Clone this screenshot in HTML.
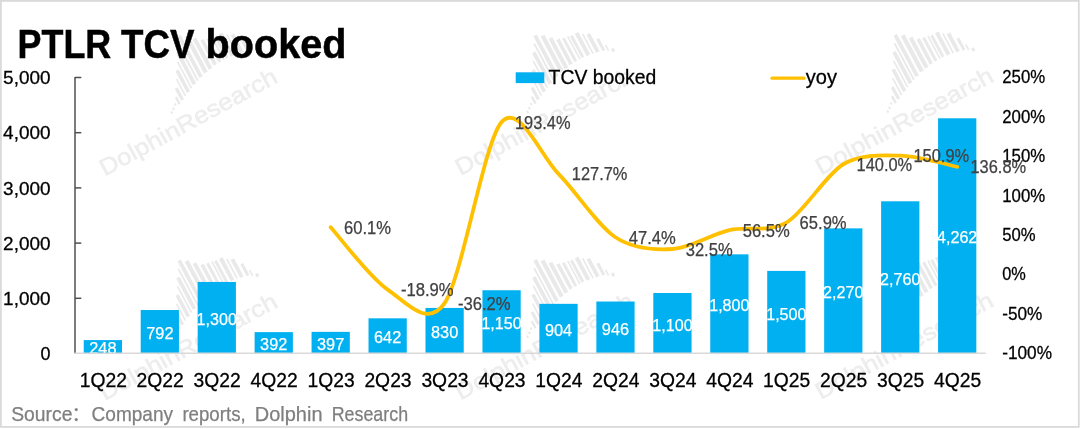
<!DOCTYPE html>
<html lang="en"><head><meta charset="utf-8"><title>PTLR TCV booked</title>
<style>
html,body{margin:0;padding:0;background:#fff;}
body{width:1080px;height:429px;overflow:hidden;}
svg{display:block;}
svg text{font-family:"Liberation Sans", "Noto Sans CJK SC", sans-serif;}
.ax{font-size:18.9px;fill:#000;stroke:#000;stroke-width:0.28px;}
.cat{font-size:19.6px;fill:#000;stroke:#000;stroke-width:0.28px;}
.bl{font-size:17.2px;fill:#fff;stroke:#fff;stroke-width:0.25px;}
.ll{font-size:17.6px;fill:#404040;stroke:#404040;stroke-width:0.25px;}
.wm{font-size:23.4px;fill:#ededed;stroke:#ededed;stroke-width:0.5px;}
</style></head><body>
<svg width="1080" height="429" viewBox="0 0 1080 429">
<defs>
<g id="wm"><g transform="rotate(-28)">
<g fill="#e9e9e9">
<rect x="97.80" y="-26.00" width="2.4" height="8.02"/>
<rect x="101.90" y="-34.00" width="3.2" height="13.81"/>
<rect x="107.20" y="-41.50" width="1.6" height="19.10"/>
<rect x="110.70" y="-49.00" width="3.6" height="24.50"/>
<rect x="116.20" y="-56.50" width="1.6" height="29.90"/>
<rect x="119.60" y="-64.00" width="3.8" height="35.46"/>
<rect x="125.10" y="-71.50" width="1.8" height="41.36"/>
<rect x="128.70" y="-78.60" width="3.8" height="46.81"/>
<rect x="134.90" y="-74.60" width="4.2" height="41.00"/>
<rect x="140.90" y="-69.00" width="4.0" height="34.22"/>
<rect x="147.10" y="-64.20" width="3.6" height="28.22"/>
<rect x="152.80" y="-62.80" width="3.0" height="26.57"/>
<rect x="158.20" y="-62.40" width="1.6" height="25.97"/>
<rect x="161.00" y="-61.20" width="3.0" height="24.62"/>
<rect x="166.40" y="-61.20" width="4.0" height="25.32"/>
<rect x="172.50" y="-57.50" width="1.6" height="22.27"/>
<rect x="176.30" y="-54.80" width="3.8" height="20.54"/>
<rect x="182.80" y="-46.20" width="3.0" height="13.34"/>
<rect x="187.50" y="-37.00" width="1.6" height="6.53"/>
<rect x="191.20" y="-30.80" width="2.8" height="3.67"/>
<rect x="87.0" y="-15.5" width="2" height="2.4"/>
<rect x="90.3" y="-18.0" width="2" height="2.4"/>
<rect x="93.8" y="-21.0" width="2" height="2.4"/>
</g>
</g>
<text class="wm" x="0" y="0" transform="translate(4.0,9.9) rotate(-28.5)" textLength="198.5" lengthAdjust="spacingAndGlyphs">DolphinResearch</text>
</g>
</defs>
<rect x="0" y="0" width="1080" height="429" fill="#fff"/>
<rect x="0.9" y="0.9" width="1077.9" height="426" fill="none" stroke="#dadada" stroke-width="1.8"/>
<use href="#wm" x="100.7" y="166.5"/>
<use href="#wm" x="456.6" y="166.0"/>
<use href="#wm" x="816.8" y="165.5"/>
<use href="#wm" x="100.7" y="391.1"/>
<use href="#wm" x="456.6" y="390.6"/>
<use href="#wm" x="816.8" y="390.1"/>
<g font-weight="bold" font-size="40.6px" fill="#000" stroke="#000" stroke-width="0.5">
<text x="17.6" y="58.1" textLength="93.6" lengthAdjust="spacingAndGlyphs">PTLR</text>
<text x="121.0" y="58.1" textLength="73.4" lengthAdjust="spacingAndGlyphs">TCV</text>
<text x="205.6" y="58.1" textLength="140.8" lengthAdjust="spacingAndGlyphs">booked</text>
</g>
<rect x="515.7" y="72.3" width="28.6" height="10.8" fill="#00b0f0"/>
<text x="548.6" y="84.3" font-size="20.2px" fill="#000" stroke="#000" stroke-width="0.28" textLength="107.6" lengthAdjust="spacingAndGlyphs">TCV booked</text>
<line x1="772" y1="78.2" x2="804" y2="78.2" stroke="#ffc000" stroke-width="3.2" stroke-linecap="round"/>
<text x="805.8" y="84.3" font-size="20.2px" fill="#000" stroke="#000" stroke-width="0.28" textLength="31.2" lengthAdjust="spacingAndGlyphs">yoy</text>
<g stroke="#4f4f4f" stroke-width="1.5" fill="none">
<line x1="75.0" y1="76.9" x2="75.0" y2="353.5"/>
<line x1="75.0" y1="298.30" x2="81.3" y2="298.30"/>
<line x1="75.0" y1="243.10" x2="81.3" y2="243.10"/>
<line x1="75.0" y1="187.90" x2="81.3" y2="187.90"/>
<line x1="75.0" y1="132.70" x2="81.3" y2="132.70"/>
<line x1="75.0" y1="77.50" x2="81.3" y2="77.50"/>
</g>
<text class="ax" x="40.5" y="360.1" textLength="10.0" lengthAdjust="spacingAndGlyphs">0</text>
<text class="ax" x="3.1" y="304.9" textLength="47.4" lengthAdjust="spacingAndGlyphs">1,000</text>
<text class="ax" x="3.1" y="249.7" textLength="47.4" lengthAdjust="spacingAndGlyphs">2,000</text>
<text class="ax" x="3.1" y="194.5" textLength="47.4" lengthAdjust="spacingAndGlyphs">3,000</text>
<text class="ax" x="3.1" y="139.3" textLength="47.4" lengthAdjust="spacingAndGlyphs">4,000</text>
<text class="ax" x="3.1" y="84.1" textLength="47.4" lengthAdjust="spacingAndGlyphs">5,000</text>
<text class="ax" x="1002.2" y="359.2" textLength="49.8" lengthAdjust="spacingAndGlyphs">-100%</text>
<text class="ax" x="1002.2" y="319.8" textLength="40.1" lengthAdjust="spacingAndGlyphs">-50%</text>
<text class="ax" x="1002.2" y="280.3" textLength="23.6" lengthAdjust="spacingAndGlyphs">0%</text>
<text class="ax" x="1002.2" y="240.9" textLength="33.3" lengthAdjust="spacingAndGlyphs">50%</text>
<text class="ax" x="1002.2" y="201.5" textLength="43.0" lengthAdjust="spacingAndGlyphs">100%</text>
<text class="ax" x="1002.2" y="162.1" textLength="43.0" lengthAdjust="spacingAndGlyphs">150%</text>
<text class="ax" x="1002.2" y="122.6" textLength="43.0" lengthAdjust="spacingAndGlyphs">200%</text>
<text class="ax" x="1002.2" y="83.2" textLength="43.0" lengthAdjust="spacingAndGlyphs">250%</text>
<g fill="#00b0f0">
<rect x="83.75" y="340.10" width="38.25" height="13.70"/>
<rect x="140.70" y="310.03" width="38.25" height="43.77"/>
<rect x="197.66" y="281.96" width="38.25" height="71.84"/>
<rect x="254.62" y="332.14" width="38.25" height="21.66"/>
<rect x="311.57" y="331.86" width="38.25" height="21.94"/>
<rect x="368.52" y="318.32" width="38.25" height="35.48"/>
<rect x="425.48" y="307.93" width="38.25" height="45.87"/>
<rect x="482.44" y="290.25" width="38.25" height="63.55"/>
<rect x="539.39" y="303.84" width="38.25" height="49.96"/>
<rect x="596.35" y="301.52" width="38.25" height="52.28"/>
<rect x="653.30" y="293.01" width="38.25" height="60.79"/>
<rect x="710.25" y="254.33" width="38.25" height="99.47"/>
<rect x="767.21" y="270.91" width="38.25" height="82.89"/>
<rect x="824.16" y="228.36" width="38.25" height="125.44"/>
<rect x="881.12" y="201.28" width="38.25" height="152.52"/>
<rect x="938.07" y="118.28" width="38.25" height="235.52"/>
</g>
<text class="bl" x="89.2" y="354.3" textLength="27.3" lengthAdjust="spacingAndGlyphs">248</text>
<text class="bl" x="146.2" y="339.3" textLength="27.3" lengthAdjust="spacingAndGlyphs">792</text>
<text class="bl" x="196.6" y="325.2" textLength="40.3" lengthAdjust="spacingAndGlyphs">1,300</text>
<text class="bl" x="260.1" y="350.3" textLength="27.3" lengthAdjust="spacingAndGlyphs">392</text>
<text class="bl" x="317.0" y="350.2" textLength="27.3" lengthAdjust="spacingAndGlyphs">397</text>
<text class="bl" x="374.0" y="343.4" textLength="27.3" lengthAdjust="spacingAndGlyphs">642</text>
<text class="bl" x="431.0" y="338.2" textLength="27.3" lengthAdjust="spacingAndGlyphs">830</text>
<text class="bl" x="481.4" y="329.4" textLength="40.3" lengthAdjust="spacingAndGlyphs">1,150</text>
<text class="bl" x="544.9" y="336.2" textLength="27.3" lengthAdjust="spacingAndGlyphs">904</text>
<text class="bl" x="601.8" y="335.0" textLength="27.3" lengthAdjust="spacingAndGlyphs">946</text>
<text class="bl" x="652.3" y="330.8" textLength="40.3" lengthAdjust="spacingAndGlyphs">1,100</text>
<text class="bl" x="709.2" y="311.4" textLength="40.3" lengthAdjust="spacingAndGlyphs">1,800</text>
<text class="bl" x="766.2" y="319.7" textLength="40.3" lengthAdjust="spacingAndGlyphs">1,500</text>
<text class="bl" x="823.1" y="298.4" textLength="40.3" lengthAdjust="spacingAndGlyphs">2,270</text>
<text class="bl" x="880.1" y="284.9" textLength="40.3" lengthAdjust="spacingAndGlyphs">2,760</text>
<text class="bl" x="937.0" y="243.4" textLength="40.3" lengthAdjust="spacingAndGlyphs">4,262</text>
<line x1="74.4" y1="353.2" x2="985.8" y2="353.2" stroke="#d9d9d9" stroke-width="1.6"/>
<text class="cat" x="79.7" y="387" textLength="47.2" lengthAdjust="spacingAndGlyphs">1Q22</text>
<text class="cat" x="136.6" y="387" textLength="47.2" lengthAdjust="spacingAndGlyphs">2Q22</text>
<text class="cat" x="193.6" y="387" textLength="47.2" lengthAdjust="spacingAndGlyphs">3Q22</text>
<text class="cat" x="250.5" y="387" textLength="47.2" lengthAdjust="spacingAndGlyphs">4Q22</text>
<text class="cat" x="307.5" y="387" textLength="47.2" lengthAdjust="spacingAndGlyphs">1Q23</text>
<text class="cat" x="364.4" y="387" textLength="47.2" lengthAdjust="spacingAndGlyphs">2Q23</text>
<text class="cat" x="421.4" y="387" textLength="47.2" lengthAdjust="spacingAndGlyphs">3Q23</text>
<text class="cat" x="478.4" y="387" textLength="47.2" lengthAdjust="spacingAndGlyphs">4Q23</text>
<text class="cat" x="535.3" y="387" textLength="47.2" lengthAdjust="spacingAndGlyphs">1Q24</text>
<text class="cat" x="592.3" y="387" textLength="47.2" lengthAdjust="spacingAndGlyphs">2Q24</text>
<text class="cat" x="649.2" y="387" textLength="47.2" lengthAdjust="spacingAndGlyphs">3Q24</text>
<text class="cat" x="706.2" y="387" textLength="47.2" lengthAdjust="spacingAndGlyphs">4Q24</text>
<text class="cat" x="763.1" y="387" textLength="47.2" lengthAdjust="spacingAndGlyphs">1Q25</text>
<text class="cat" x="820.1" y="387" textLength="47.2" lengthAdjust="spacingAndGlyphs">2Q25</text>
<text class="cat" x="877.0" y="387" textLength="47.2" lengthAdjust="spacingAndGlyphs">3Q25</text>
<text class="cat" x="934.0" y="387" textLength="47.2" lengthAdjust="spacingAndGlyphs">4Q25</text>
<path d="M330.69,227.25 C339.52,236.91 369.99,277.78 387.65,289.55 C405.31,301.32 426.95,329.14 444.61,303.19 C462.26,277.24 483.90,142.17 501.56,122.13 C519.22,102.10 540.86,156.10 558.51,173.94 C576.17,191.79 597.81,225.63 615.47,237.26 C633.13,248.90 654.77,250.13 672.42,249.01 C690.08,247.90 711.72,234.17 729.38,230.09 C747.04,226.01 768.68,232.88 786.34,222.68 C803.99,212.47 825.63,174.63 843.29,164.24 C860.95,153.85 882.59,155.26 900.25,155.65 C917.90,156.04 948.37,165.04 957.20,166.77" fill="none" stroke="#ffc000" stroke-width="3.8" stroke-linecap="round" stroke-linejoin="round"/>
<text class="ll" x="344.0" y="233.7" textLength="47.0" lengthAdjust="spacingAndGlyphs">60.1%</text>
<text class="ll" x="400.9" y="296.0" textLength="52.8" lengthAdjust="spacingAndGlyphs">-18.9%</text>
<text class="ll" x="457.9" y="309.7" textLength="52.8" lengthAdjust="spacingAndGlyphs">-36.2%</text>
<text class="ll" x="514.9" y="128.6" textLength="55.6" lengthAdjust="spacingAndGlyphs">193.4%</text>
<text class="ll" x="571.8" y="180.4" textLength="55.6" lengthAdjust="spacingAndGlyphs">127.7%</text>
<text class="ll" x="628.8" y="243.8" textLength="47.0" lengthAdjust="spacingAndGlyphs">47.4%</text>
<text class="ll" x="685.7" y="255.5" textLength="47.0" lengthAdjust="spacingAndGlyphs">32.5%</text>
<text class="ll" x="742.7" y="236.6" textLength="47.0" lengthAdjust="spacingAndGlyphs">56.5%</text>
<text class="ll" x="799.6" y="229.2" textLength="47.0" lengthAdjust="spacingAndGlyphs">65.9%</text>
<text class="ll" x="856.6" y="170.7" textLength="55.6" lengthAdjust="spacingAndGlyphs">140.0%</text>
<text class="ll" x="913.5" y="162.1" textLength="55.6" lengthAdjust="spacingAndGlyphs">150.9%</text>
<text class="ll" x="970.5" y="173.3" textLength="55.6" lengthAdjust="spacingAndGlyphs">136.8%</text>
<g font-size="20.2px" fill="#7f7f7f" stroke="#7f7f7f" stroke-width="0.25">
<text x="11.2" y="421" textLength="61.2" lengthAdjust="spacingAndGlyphs">Source</text>
<text x="71.4" y="421" font-size="19px">：</text>
<text x="91.6" y="421" textLength="81.4" lengthAdjust="spacingAndGlyphs">Company</text>
<text x="182.4" y="421" textLength="63.3" lengthAdjust="spacingAndGlyphs">reports,</text>
<text x="254.8" y="421" textLength="67.7" lengthAdjust="spacingAndGlyphs">Dolphin</text>
<text x="331.7" y="421" textLength="76.4" lengthAdjust="spacingAndGlyphs">Research</text>
</g>
</svg>
</body></html>
